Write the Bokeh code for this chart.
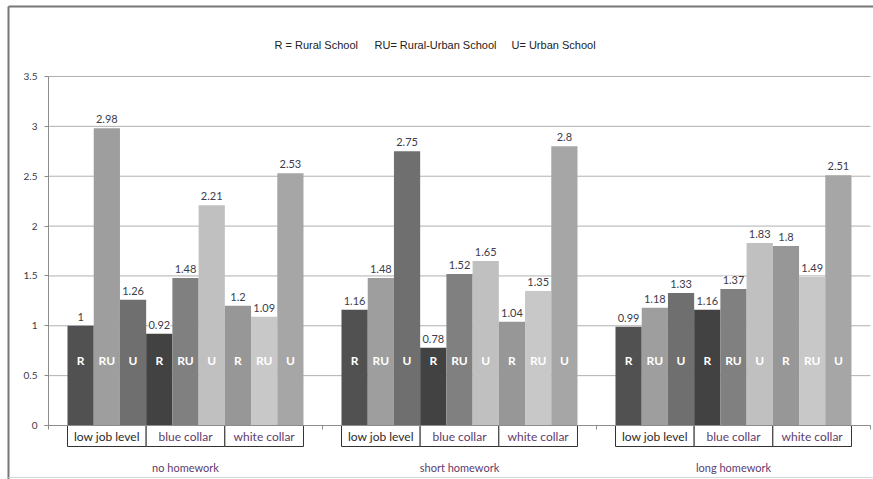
from bokeh.plotting import figure
from bokeh.models import (ColumnDataSource, Range1d, FixedTicker, LabelSet, Label,
                          NumeralTickFormatter)
from bokeh.core.properties import value
from bokeh.embed import file_html
from bokeh.resources import INLINE

# ---------------- data ----------------
homework = ["no homework", "short homework", "long homework"]
jobs = ["low job level", "blue collar", "white collar"]
schools = ["R", "RU", "U"]
# order: low job (R, RU, U), blue collar (R, RU, U), white collar (R, RU, U)
no_homework = [1.00, 2.98, 1.26, 0.92, 1.48, 2.21, 1.20, 1.09, 2.53]
short_homework = [1.16, 1.48, 2.75, 0.78, 1.52, 1.65, 1.04, 1.35, 2.80]
long_homework = [0.99, 1.18, 1.33, 1.16, 1.37, 1.83, 1.80, 1.49, 2.51]
y_ticks = [0, 0.5, 1, 1.5, 2, 2.5, 3, 3.5]
legend_items = ["R = Rural School", "RU= Rural-Urban School", "U= Urban School"]

# ---------------- styles / layout ----------------
bar_colors = ["#515151", "#9e9e9e", "#6f6f6f",
              "#424242", "#808080", "#c0c0c0",
              "#979797", "#c8c8c8", "#a6a6a6"]
W, H = 873, 479
GX = 274.0      # px per group
PY = 99.71      # px per y unit
Y0 = 425.0      # px of y=0
AX = 48.0       # px of x=0


def X(px):
    return (px - AX) / GX


def Y(py):
    return (Y0 - py) / PY


BW = 0.0957
NG = len(homework)

p = figure(width=W, height=H, output_backend="svg", toolbar_location=None,
           x_range=Range1d(X(0), X(W)), y_range=Range1d(Y(H), Y(0)),
           min_border_left=0, min_border_right=0,
           min_border_top=0, min_border_bottom=0, x_axis_location=None)
p.outline_line_color = None
p.background_fill_color = "white"
p.border_fill_color = "white"
p.xgrid.visible = False
p.ygrid.visible = False

yax = p.yaxis[0]
yax.fixed_location = 0
yax.ticker = FixedTicker(ticks=y_ticks)
yax.formatter = NumeralTickFormatter(format="0.[0]")
yax.axis_line_color = None
yax.major_tick_in = 0
yax.major_tick_out = 4
yax.major_tick_line_color = "#8c8c8c"
yax.minor_tick_line_color = None
yax.major_label_text_font = "Lato"
yax.major_label_text_font_size = "10px"
yax.major_label_text_color = "#3a3a4a"
yax.major_label_standoff = 7

# gridlines (only across the plot area)
p.segment(x0=0, x1=NG, y0=y_ticks, y1=y_ticks, line_color="#b0b0b0", line_width=1)

# bars
xs, tops, cols, labs, sch, sy = [], [], [], [], [], []
for g, vals in enumerate([no_homework, short_homework, long_homework]):
    for i, v in enumerate(vals):
        xs.append(g + 0.5 + (i - 4) * BW)
        tops.append(v)
        cols.append(bar_colors[i])
        labs.append(f"{v:g}")
        sch.append(schools[i % 3])
        sy.append(Y(360))
src = ColumnDataSource(dict(x=xs, top=tops, color=cols, label=labs, school=sch, sy=sy))
p.vbar(x="x", top="top", bottom=0, width=BW, fill_color="color", line_color=None, source=src)

p.add_layout(LabelSet(x="x", y="top", text="label", source=src, y_offset=5,
                      text_align="center", text_baseline="bottom",
                      text_font=value("Lato"), text_font_size="11px", text_color="#3c3c4c",
                      background_fill_color="white"))
p.add_layout(LabelSet(x="x", y="sy", text="school", source=src,
                      text_align="center", text_baseline="middle",
                      text_font=value("Lato"), text_font_style="bold",
                      text_font_size="12px", text_color="white"))

# boxes below axis with job labels
bx0, bx1, bcx, btxt, bcol = [], [], [], [], []
for g in range(NG):
    start = g + 0.5 - 4.5 * BW
    for k, job in enumerate(jobs):
        a = start + 3 * k * BW
        bx0.append(a)
        bx1.append(a + 3 * BW)
        bcx.append(a + 1.5 * BW)
        btxt.append(job)
        bcol.append("#2a2a2a" if k == 0 else "#5e3c6e")
p.quad(left=bx0, right=bx1, top=0, bottom=Y(446), fill_color="white",
       line_color="#333333", line_width=1)
p.text(x=bcx, y=Y(436), text=btxt, text_align="center", text_baseline="middle",
       text_font=value("Lato"), text_font_size="12px", text_color=bcol)

# group labels
p.text(x=[g + 0.5 for g in range(NG)], y=Y(467), text=homework,
       text_align="center", text_baseline="middle",
       text_font=value("Lato"), text_font_size="11px", text_color="#5e3c6e")

# axis lines
p.segment(x0=X(44), y0=0, x1=NG, y1=0, line_color="#8c8c8c", line_width=1)
p.segment(x0=0, y0=0, x1=0, y1=y_ticks[-1], line_color="#8c8c8c", line_width=1)
p.segment(x0=list(range(NG + 1)), y0=0, x1=list(range(NG + 1)), y1=Y(429),
          line_color="#8c8c8c")

# legend text
for t, px in zip(legend_items, [274, 374, 511]):
    p.add_layout(Label(x=X(px), y=Y(44), text=t, text_baseline="middle", text_align="left",
                       text_font="Liberation Sans", text_font_size="11px", text_color="#222222"))

# outer chart border (left + top dark, bottom light)
p.segment(x0=X(8), y0=Y(6), x1=X(W), y1=Y(6), line_color="#777777", line_width=2)
p.segment(x0=X(8), y0=Y(6), x1=X(8), y1=Y(H), line_color="#777777", line_width=2)
p.segment(x0=X(8), y0=Y(477), x1=X(W), y1=Y(477), line_color="#d8d8d8", line_width=1)

open("out.html", "w").write(file_html(p, INLINE))
